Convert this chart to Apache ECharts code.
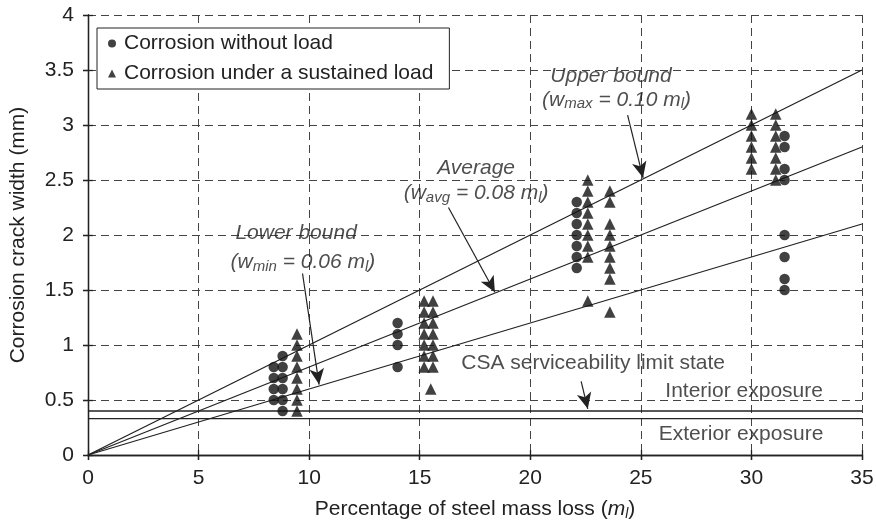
<!DOCTYPE html>
<html>
<head>
<meta charset="utf-8">
<script src="https://cdn.jsdelivr.net/npm/echarts@6/dist/echarts.min.js"></script>
<style>
html,body{margin:0;padding:0;background:#fff;}
#chart{width:876px;height:529px;}
</style>
</head>
<body>
<div id="chart"></div>
<script>
// ---------- data ----------
const xTicks = [0, 5, 10, 15, 20, 25, 30, 35];
const yTicks = [0, 0.5, 1, 1.5, 2, 2.5, 3, 3.5, 4];

// Corrosion without load (circles)
const noLoadX = [8.4, 8.4, 8.4, 8.4,
  8.8, 8.8, 8.8, 8.8, 8.8, 8.8,
  14.0, 14.0, 14.0, 14.0,
  22.1, 22.1, 22.1, 22.1, 22.1, 22.1, 22.1,
  31.5, 31.5, 31.5, 31.5, 31.5, 31.5, 31.5, 31.5];
const noLoadY = [0.5, 0.6, 0.7, 0.8,
  0.4, 0.5, 0.6, 0.7, 0.8, 0.9,
  0.8, 1.0, 1.1, 1.2,
  1.7, 1.8, 1.9, 2.0, 2.1, 2.2, 2.3,
  1.5, 1.6, 1.8, 2.0, 2.5, 2.6, 2.8, 2.9];

// Corrosion under a sustained load (triangles)
const loadX = [9.45, 9.45, 9.45, 9.45, 9.45, 9.45, 9.45, 9.45,
  15.2, 15.2, 15.2, 15.2, 15.2, 15.2, 15.2,
  15.6, 15.6, 15.6, 15.6, 15.6, 15.6, 15.6, 15.5,
  22.6, 22.6, 22.6, 22.6, 22.6, 22.6, 22.6, 22.6, 22.6,
  23.6, 23.6, 23.6, 23.6, 23.6, 23.6, 23.6, 23.6, 23.6,
  30.0, 30.0, 30.0, 30.0, 30.0, 30.0,
  31.1, 31.1, 31.1, 31.1, 31.1, 31.1, 31.1];
const loadY = [0.4, 0.5, 0.6, 0.7, 0.8, 0.9, 1.0, 1.1,
  0.8, 0.9, 1.0, 1.1, 1.2, 1.3, 1.4,
  0.8, 0.9, 1.0, 1.1, 1.2, 1.3, 1.4, 0.6,
  1.4, 1.8, 1.9, 2.0, 2.1, 2.2, 2.3, 2.4, 2.5,
  1.3, 1.6, 1.7, 1.8, 1.9, 2.0, 2.1, 2.3, 2.4,
  2.6, 2.7, 2.8, 2.9, 3.0, 3.1,
  2.5, 2.6, 2.7, 2.8, 2.9, 3.0, 3.1];

// bound lines w = k * m_l
const boundNames = ['Upper bound', 'Average', 'Lower bound'];
const boundSlopes = [0.10, 0.08, 0.06];
const xMax = 35;

// CSA serviceability limits (mm)
const limitNames = ['Interior exposure', 'Exterior exposure'];
const limitValues = [0.4, 0.33];

const seriesNames = ['Corrosion without load', 'Corrosion under a sustained load'];

// ---------- chart ----------
const FONT = 'Liberation Sans, Arial, sans-serif';
const FS = 21;
const INK = '#222';

const pairs = (xs, ys) => xs.map((x, i) => [x, ys[i]]);

const sub = {
  a: {fontSize: FS, fontStyle: 'italic', fontFamily: FONT, color: INK, lineHeight: 24},
  b: {fontSize: 15, fontStyle: 'italic', fontFamily: FONT, color: INK, lineHeight: 13, verticalAlign: 'bottom'},
  n: {fontSize: FS, fontFamily: FONT, color: INK, lineHeight: 24}
};

const notes = [
  {value: [23.65, 3.44], text: '{a|Upper bound}'},
  {value: [23.9, 3.23], text: '{a|(w}{b|max}{a| = 0.10 m}{b|l}{a|)}'},
  {value: [17.55, 2.61], text: '{a|Average}'},
  {value: [17.55, 2.38], text: '{a|(w}{b|avg}{a| = 0.08 m}{b|l}{a|)}'},
  {value: [9.41, 2.02], text: '{a|Lower bound}'},
  {value: [9.72, 1.75], text: '{a|(w}{b|min}{a| = 0.06 m}{b|l}{a|)}'},
  {value: [22.84, 0.83], text: '{n|CSA serviceability limit state}'},
  {value: [29.67, 0.58], text: '{n|Interior exposure}'},
  {value: [29.53, 0.19], text: '{n|Exterior exposure}'}
];

const arrows = [
  [[24.4, 3.09], [25.1, 2.52]],
  [[16.3, 2.25], [18.4, 1.48]],
  [[9.7, 1.65], [10.45, 0.64]],
  [[22.3, 0.67], [22.6, 0.42]]
];

const baseX = {type: 'value', min: 0, max: 35, interval: 5};
const baseY = {type: 'value', min: 0, max: 4, interval: 0.5};

const option = {
  animation: false,
  backgroundColor: '#fff',
  textStyle: {fontFamily: FONT},
  grid: {left: 88, right: 14, top: 15, bottom: 74, containLabel: false, outerBoundsMode: 'none'},
  legend: {
    data: [
      {name: seriesNames[0], icon: 'circle'},
      {name: seriesNames[1], icon: 'triangle'}
    ],
    orient: 'vertical',
    left: 97, top: 28,
    padding: [5, 16, 5, 11],
    itemGap: 9,
    itemWidth: 8, itemHeight: 8,
    backgroundColor: '#fff',
    borderColor: INK, borderWidth: 1,
    borderRadius: 0,
    textStyle: {fontSize: FS, color: INK, fontFamily: FONT, lineHeight: 20, padding: [0, 0, 0, 3]},
    selectedMode: false
  },
  xAxis: [
    Object.assign({}, baseX, {
      position: 'bottom',
      name: '{n|Percentage of steel mass loss (}{i|m}{s|l}{n|)}',
      nameLocation: 'middle', nameGap: 42,
      nameTextStyle: {rich: {
        n: {fontSize: FS, fontFamily: FONT, color: INK, lineHeight: 24},
        i: {fontSize: FS, fontFamily: FONT, color: INK, fontStyle: 'italic', lineHeight: 24},
        s: {fontSize: 14, fontFamily: FONT, color: INK, fontStyle: 'italic', lineHeight: 12, verticalAlign: 'bottom'}
      }},
      axisLine: {show: true, onZero: false, lineStyle: {color: INK, width: 1.3}},
      axisTick: {show: true, inside: false, length: 5, lineStyle: {color: INK, width: 1.3}},
      axisLabel: {fontSize: FS, color: INK, margin: 13, fontFamily: FONT},
      splitLine: {show: true, lineStyle: {color: '#444', type: [8, 5], width: 1}}
    }),
    Object.assign({}, baseX, {
      position: 'bottom',
      axisLine: {show: false},
      axisTick: {show: true, inside: true, length: 5, lineStyle: {color: INK, width: 1.3}},
      axisLabel: {show: false}, splitLine: {show: false}
    }),
    Object.assign({}, baseX, {
      position: 'top',
      axisLine: {show: true, lineStyle: {color: INK, width: 1.3}},
      axisTick: {show: true, inside: true, length: 5, lineStyle: {color: INK, width: 1.3}},
      axisLabel: {show: false}, splitLine: {show: false}
    })
  ],
  yAxis: [
    Object.assign({}, baseY, {
      position: 'left',
      name: 'Corrosion crack width (mm)',
      nameLocation: 'middle', nameGap: 59,
      nameTextStyle: {fontSize: FS, color: INK, fontFamily: FONT},
      axisLine: {show: true, onZero: false, lineStyle: {color: INK, width: 1.3}},
      axisTick: {show: true, inside: false, length: 5, lineStyle: {color: INK, width: 1.3}},
      axisLabel: {fontSize: FS, color: INK, margin: 14, fontFamily: FONT},
      splitLine: {show: true, lineStyle: {color: '#444', type: [8, 5], width: 1}}
    }),
    Object.assign({}, baseY, {
      position: 'left',
      axisLine: {show: false},
      axisTick: {show: true, inside: true, length: 5, lineStyle: {color: INK, width: 1.3}},
      axisLabel: {show: false}, splitLine: {show: false}
    }),
    Object.assign({}, baseY, {
      position: 'right',
      axisLine: {show: true, lineStyle: {color: INK, width: 1.3}},
      axisTick: {show: true, inside: true, length: 5, lineStyle: {color: INK, width: 1.3}},
      axisLabel: {show: false}, splitLine: {show: false}
    })
  ],
  series: [].concat(
    boundSlopes.map((k, i) => ({
      name: boundNames[i], type: 'line', symbol: 'none', silent: true,
      data: [[0, 0], [xMax, k * xMax]],
      lineStyle: {color: INK, width: 1.3}, z: 3
    })),
    limitValues.map((v, i) => ({
      name: limitNames[i], type: 'line', symbol: 'none', silent: true,
      data: [[0, v], [xMax, v]],
      lineStyle: {color: INK, width: 1.3}, z: 3
    })),
    [
      {
        name: seriesNames[0], type: 'scatter', symbol: 'circle', symbolSize: 10.5,
        itemStyle: {color: '#111'}, data: pairs(noLoadX, noLoadY), z: 5
      },
      {
        name: seriesNames[1], type: 'scatter', symbol: 'triangle', symbolSize: 11.5,
        itemStyle: {color: '#111'}, data: pairs(loadX, loadY), z: 5
      },
      {
        name: 'arrows', type: 'line', data: [], silent: true,
        markLine: {
          silent: true, animation: false,
          symbol: ['none', 'arrow'], symbolSize: [11, 16],
          lineStyle: {color: INK, width: 1.2, type: 'solid'},
          label: {show: false},
          data: arrows.map(a => [{coord: a[0]}, {coord: a[1]}])
        }
      },
      {
        name: 'notes', type: 'scatter', symbolSize: 0, silent: true, z: 6,
        data: notes.map(n => ({
          value: n.value,
          label: {show: true, position: 'inside', formatter: n.text, rich: sub}
        }))
      }
    ]
  )
};

const chart = echarts.init(document.getElementById('chart'), null, {renderer: 'canvas'});
chart.setOption(option);
</script>
</body>
</html>
